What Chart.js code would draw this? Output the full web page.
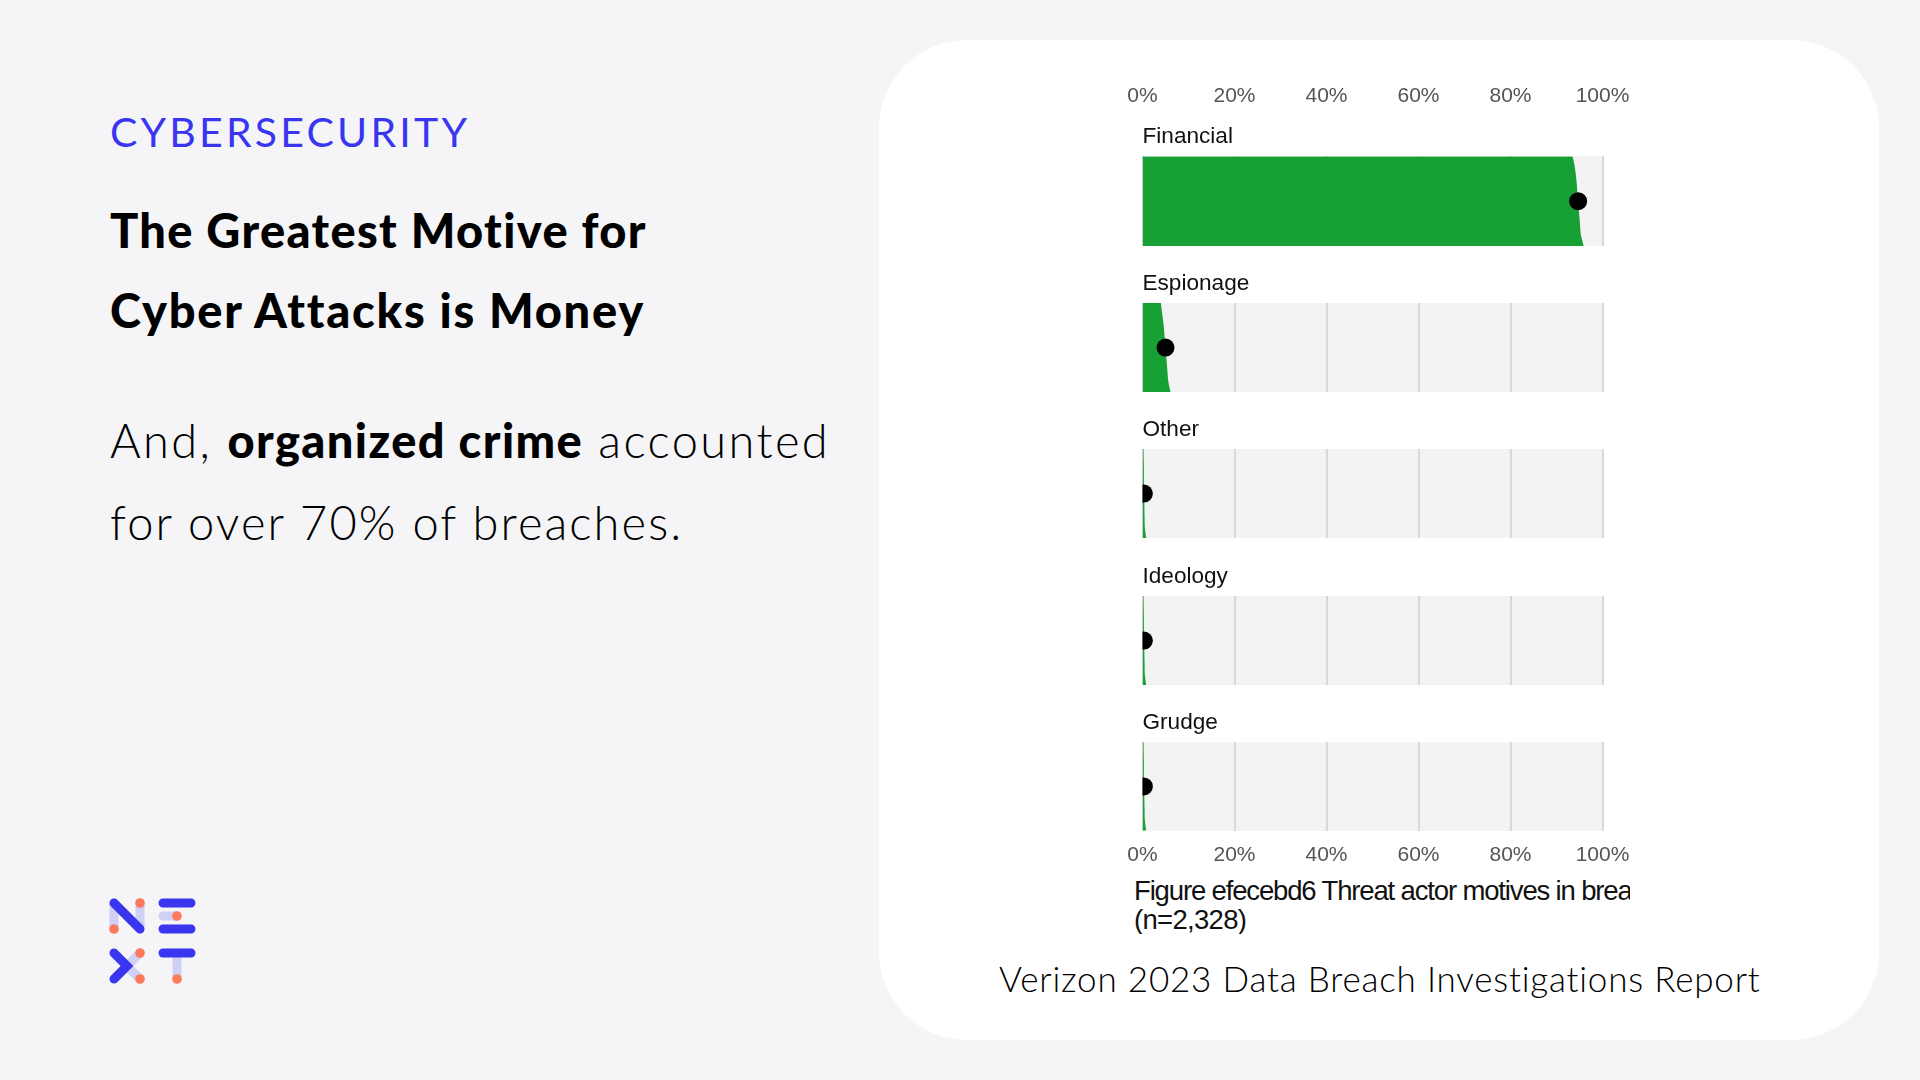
<!DOCTYPE html>
<html>
<head>
<meta charset="utf-8">
<title>The Greatest Motive for Cyber Attacks is Money</title>
<script src="https://cdn.jsdelivr.net/npm/chart.js@4"></script>
<style>
    html, body { margin: 0; padding: 0; }
    body { width: 1920px; height: 1080px; background: #f5f5f8; position: relative; overflow: hidden; font-family: Lato, sans-serif; color: #000; }
    .abs { position: absolute; white-space: nowrap; }
    #card { position: absolute; left: 879px; top: 40px; width: 1000px; height: 1000px; background: #fff; border-radius: 88px; }
    #kicker { left: 110px; top: 108px; font-size: 41px; line-height: 48px; color: #3a36f0; letter-spacing: 3.2px; }
    #headline { left: 110px; top: 190px; font-size: 47px; line-height: 80px; font-weight: 900; letter-spacing: 1.35px; }
    #headline span { letter-spacing: 1.75px; }
    #blurb { left: 110px; top: 399px; font-size: 47px; line-height: 82px; font-weight: 300; letter-spacing: 2.4px; }
    #blurb b { font-weight: 900; letter-spacing: 1.4px; }
    #blurb span { letter-spacing: 2.1px; }
    #caption { left: 1134px; top: 876px; width: 496px; overflow: hidden; font-family: "Liberation Sans", sans-serif; font-size: 27.5px; line-height: 29px; letter-spacing: -1.15px; color: #111; }
    #caption span { letter-spacing: -0.7px; }
    #source { left: 999px; top: 956px; font-size: 35px; line-height: 44px; font-weight: 300; letter-spacing: 0.8px; }
    canvas { position: absolute; }
    #logo { position: absolute; left: 100px; top: 890px; }
</style>
</head>
<body>
<div id="card"></div>
<div id="kicker" class="abs">CYBERSECURITY</div>
<div id="headline" class="abs">The Greatest Motive for<br><span>Cyber Attacks is Money</span></div>
<div id="blurb" class="abs">And, <b>organized crime</b> accounted<br><span>for over 70% of breaches.</span></div>
<div id="caption" class="abs">Figure efecebd6 Threat actor motives in brea<br><span>(n=2,328)</span></div>
<div id="source" class="abs">Verizon 2023 Data Breach Investigations Report</div>

<svg id="logo" width="100" height="100" viewBox="0 0 100 100" fill="none" stroke-linecap="round" stroke-width="9">
    <path d="M14 13V39M40 13V39" stroke="#d0d0f6"/>
    <path d="M14 13L40 39" stroke="#3a36f0"/>
    <circle cx="14" cy="39" r="4.8" fill="#ff7a5c"/><circle cx="40" cy="13" r="4.8" fill="#ff7a5c"/>
    <path d="M63 26H77" stroke="#d0d0f6"/>
    <path d="M63 13H91M63 39H91" stroke="#3a36f0"/>
    <circle cx="77" cy="26" r="4.8" fill="#ff7a5c"/>
    <path d="M40 63L27 76L40 89" stroke="#d0d0f6"/>
    <path d="M14 63L27 76L14 89" stroke="#3a36f0"/>
    <circle cx="40" cy="63" r="4.8" fill="#ff7a5c"/><circle cx="40" cy="89" r="4.8" fill="#ff7a5c"/>
    <path d="M77 63V89" stroke="#d0d0f6"/>
    <path d="M63 63H91" stroke="#3a36f0"/>
    <circle cx="77" cy="89" r="4.8" fill="#ff7a5c"/>
</svg>

<canvas id="panel0"></canvas>
<canvas id="panel1"></canvas>
<canvas id="panel2"></canvas>
<canvas id="panel3"></canvas>
<canvas id="panel4"></canvas>

<script>
// Chart data
const motives = ['Financial', 'Espionage', 'Other', 'Ideology', 'Grudge'];
const medians = [94.7, 5.0, 0.3, 0.3, 0.3];
const quantileLabels = ['q0', 'q1', 'q2', 'q3', 'q4', 'q5', 'q6', 'q7', 'q8'];
const financialEdge = [93.5, 94.0, 94.3, 94.5, 94.7, 94.9, 95.1, 95.3, 95.9];
const espionageEdge = [4.0, 4.3, 4.6, 4.8, 5.0, 5.2, 5.4, 5.6, 6.1];
const otherEdge = [0.2, 0.25, 0.3, 0.3, 0.35, 0.4, 0.45, 0.5, 0.8];
const ideologyEdge = [0.2, 0.25, 0.3, 0.3, 0.35, 0.4, 0.45, 0.5, 0.8];
const grudgeEdge = [0.2, 0.25, 0.3, 0.3, 0.35, 0.4, 0.45, 0.5, 0.8];
const tickValues = [0, 20, 40, 60, 80, 100];

const edges = [financialEdge, espionageEdge, otherEdge, ideologyEdge, grudgeEdge];
const bandTops = [157, 303, 449, 596, 742];
const bandHeight = 89;
const labelBlock = 33;

// Grey track behind the grid
const plotBackground = {
    id: 'plotBackground',
    beforeDraw(chart) {
        const { ctx, chartArea } = chart;
        ctx.save();
        ctx.fillStyle = '#f3f3f3';
        ctx.fillRect(chartArea.left, chartArea.top, chartArea.width, chartArea.height);
        ctx.restore();
    }
};

motives.forEach((motive, i) => {
    const isFirst = i === 0;
    const isLast = i === motives.length - 1;
    const axisBlock = isFirst ? 54 : isLast ? 49 : 0;
    const canvas = document.getElementById('panel' + i);
    const height = labelBlock + bandHeight + axisBlock;
    const top = bandTops[i] - labelBlock - (isFirst ? axisBlock : 0);
    canvas.style.left = '1092px';
    canvas.style.top = top + 'px';
    canvas.style.width = '568px';
    canvas.style.height = height + 'px';
    canvas.width = 568;
    canvas.height = height;

    new Chart(canvas, {
        type: 'line',
        data: {
            labels: quantileLabels,
            datasets: [
                {
                    label: 'Range',
                    data: edges[i],
                    borderWidth: 0,
                    pointRadius: 0,
                    tension: 0.3,
                    fill: 'origin',
                    backgroundColor: '#17a033',
                    order: 2
                },
                {
                    label: 'Median',
                    data: quantileLabels.map((_, j) => j === 4 ? medians[i] : null),
                    showLine: false,
                    pointRadius: 9,
                    pointBackgroundColor: '#000',
                    pointBorderWidth: 0,
                    clip: 0,
                    order: 1
                }
            ]
        },
        options: {
            indexAxis: 'y',
            responsive: false,
            animation: false,
            devicePixelRatio: 1,
            layout: {
                autoPadding: false,
                padding: { left: 50.5, right: 57.5, top: 0, bottom: 0 }
            },
            scales: {
                x: {
                    type: 'linear',
                    min: 0,
                    max: 100,
                    position: isFirst ? 'top' : 'bottom',
                    weight: 3000,
                    border: { display: false },
                    grid: { color: '#d8d8d8', lineWidth: 2, drawTicks: false },
                    afterBuildTicks: axis => { axis.ticks = tickValues.map(value => ({ value })); },
                    ticks: {
                        display: isFirst || isLast,
                        maxRotation: 0,
                        padding: isFirst ? 14 : 12,
                        color: '#555',
                        font: { family: '"Liberation Sans"', size: 21 },
                        callback: value => value + '%'
                    }
                },
                y: { type: 'category', display: false, offset: false }
            },
            plugins: {
                legend: { display: false },
                tooltip: { enabled: false },
                title: {
                    display: true,
                    text: motive,
                    align: 'start',
                    color: '#111',
                    weight: -1,
                    fullSize: false,
                    padding: { top: 0, bottom: 6 },
                    font: { family: '"Liberation Sans"', size: 22.6, weight: 'normal' }
                }
            }
        },
        plugins: [plotBackground]
    });
});
</script>
</body>
</html>
